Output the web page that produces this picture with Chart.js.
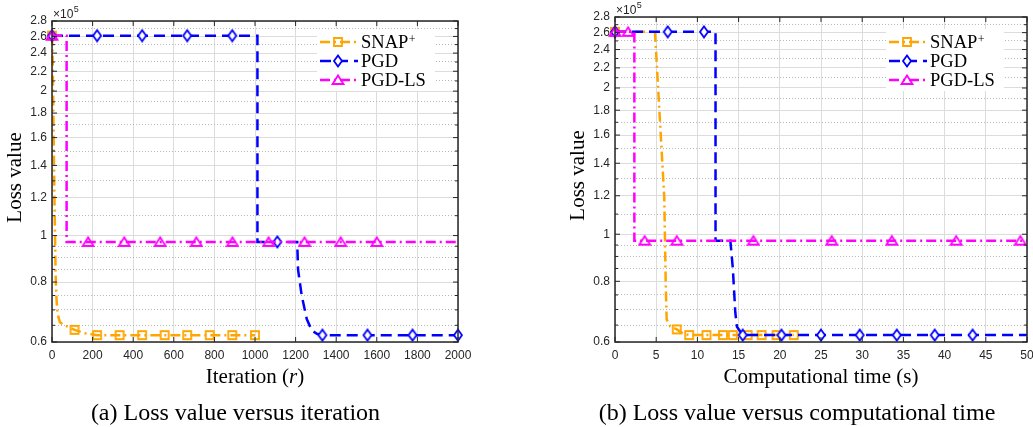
<!DOCTYPE html>
<html>
<head>
<meta charset="utf-8">
<script src="https://cdn.jsdelivr.net/npm/chart.js@4.4.1/dist/chart.umd.min.js"></script>
<style>
  html, body { margin: 0; padding: 0; background: #fff; overflow: hidden; }
  body { width: 1033px; height: 427px; position: relative; }
  canvas { position: absolute; top: 0; }
  #iterChart { left: 0; }
  #timeChart { left: 560px; }
  .caption { position: absolute; top: 398px; font: 24px "Liberation Serif", "Times New Roman", serif; color: #000; text-align: center; line-height: 28px; white-space: nowrap; }
</style>
</head>
<body>
<canvas id="iterChart" width="480" height="400"></canvas>
<canvas id="timeChart" width="480" height="400"></canvas>
<div class="caption" style="left:0;width:471px">(a) Loss value versus iteration</div>
<div class="caption" style="left:560px;width:474px">(b) Loss value versus computational time</div>
<script>
// Colours
const snapColor = '#FFA500'; // orange
const pgdColor = '#0000FF';  // blue
const lsColor = '#FF00FF';   // magenta
const gridMajor = '#dcdcdc';
const gridMinor = '#b8b8b8';
const axisColor = '#262626';
const tickFont = { family: '"Liberation Sans", Arial, sans-serif', size: 12 };
const serif = '"Liberation Serif", "Times New Roman", serif';

// Y axis (log scale, values in units of 1e5), same for both panels
const yMajorTicks = [0.6, 0.8, 1, 1.2, 1.4, 1.6, 1.8, 2, 2.2, 2.4, 2.6, 2.8];
const yTickLabels = ['0.6', '0.8', '1', '1.2', '1.4', '1.6', '1.8', '2', '2.2', '2.4', '2.6', '2.8'];
const yMinorTicks = [0.65, 0.7, 0.75, 0.85, 0.9, 0.95, 1.1, 1.3, 1.5, 1.7, 1.9, 2.1, 2.3, 2.5, 2.7];

// (a) Loss value versus iteration
const iterSnapX = [0, 3, 6, 9, 12, 15, 18, 22, 26, 32, 39, 55, 80, 111, 160, 222, 333, 444, 555, 666, 777, 888, 1000];
const iterSnapY = [2.61, 2.4, 1.9, 1.5, 1.2, 1.0, 0.82, 0.74, 0.7, 0.675, 0.66, 0.652, 0.645, 0.636, 0.626, 0.62, 0.62, 0.62, 0.62, 0.62, 0.62, 0.62, 0.62];
const iterSnapMarks = [0, 111, 222, 333, 444, 555, 666, 777, 888, 1000];

const iterPgdX = [0, 222, 444, 666, 888, 1012, 1012, 1110, 1208, 1212, 1230, 1255, 1280, 1305, 1332, 1554, 1776, 2000];
const iterPgdY = [2.61, 2.61, 2.61, 2.61, 2.61, 2.61, 0.97, 0.97, 0.97, 0.85, 0.75, 0.67, 0.634, 0.624, 0.62, 0.62, 0.62, 0.62];
const iterPgdMarks = [0, 222, 444, 666, 888, 1110, 1332, 1554, 1776, 2000];

const iterLsX = [0, 72, 72, 178, 356, 533, 711, 889, 1067, 1244, 1422, 1600, 2000];
const iterLsY = [2.61, 2.61, 0.97, 0.97, 0.97, 0.97, 0.97, 0.97, 0.97, 0.97, 0.97, 0.97, 0.97];
const iterLsMarks = [0, 178, 356, 533, 711, 889, 1067, 1244, 1422, 1600];

// (b) Loss value versus computational time (s)
const timeSnapX = [0, 4.85, 5.98, 6.15, 6.27, 6.7, 7.5, 8.2, 9.0, 11.1, 13.1, 14.3, 16.1, 17.8, 19.6, 21.7];
const timeSnapY = [2.61, 2.61, 1.19, 0.8, 0.668, 0.646, 0.637, 0.625, 0.62, 0.62, 0.62, 0.62, 0.62, 0.62, 0.62, 0.62];
const timeSnapMarks = [0, 7.5, 9.0, 11.1, 13.1, 14.3, 16.1, 17.8, 19.6, 21.7];

const timePgdX = [0, 6.4, 10.8, 12.2, 12.2, 14.0, 14.3, 14.6, 14.8, 15.5, 20.2, 25.0, 29.7, 34.2, 38.8, 43.4, 50];
const timePgdY = [2.61, 2.61, 2.61, 2.61, 0.97, 0.97, 0.85, 0.69, 0.645, 0.62, 0.62, 0.62, 0.62, 0.62, 0.62, 0.62, 0.62];
const timePgdMarks = [0, 6.4, 10.8, 15.5, 20.2, 25.0, 29.7, 34.2, 38.8, 43.4];

const timeLsX = [0, 1.6, 2.35, 2.35, 3.6, 7.5, 16.8, 26.3, 33.6, 41.4, 49.2, 50];
const timeLsY = [2.61, 2.61, 2.61, 0.97, 0.97, 0.97, 0.97, 0.97, 0.97, 0.97, 0.97, 0.97];
const timeLsMarks = [0, 1.6, 3.6, 7.5, 16.8, 26.3, 33.6, 41.4, 49.2];

// marker glyphs (MATLAB-like open square / diamond / triangle)
function markerImage(shape, color, fill) {
    const c = document.createElement('canvas');
    c.width = 14; c.height = 14;
    const g = c.getContext('2d');
    g.lineWidth = 1.8; g.strokeStyle = color; g.fillStyle = fill || 'transparent';
    g.beginPath();
    if (shape === 'square') g.rect(3, 3, 8, 8);
    else if (shape === 'diamond') { g.moveTo(7, 1.5); g.lineTo(11, 7); g.lineTo(7, 12.5); g.lineTo(3, 7); g.closePath(); }
    else { g.moveTo(7, 2.5); g.lineTo(12.5, 11); g.lineTo(1.5, 11); g.closePath(); }
    if (fill) g.fill();
    g.stroke();
    return c;
}
const squareImg = markerImage('square', snapColor);
const diamondImg = markerImage('diamond', pgdColor, '#ffffff');
const triangleImg = markerImage('triangle', lsColor);

const snapDash = [10, 4, 2, 4];
const pgdDash = [11, 6];
const lsDash = [10, 4, 2, 4];

function series(label, xs, ys, marks, color, dash, img, order) {
    return {
        label: label,
        order: order,
        data: xs.map((x, i) => ({ x: x, y: ys[i] })),
        borderColor: color,
        borderWidth: 2.5,
        borderDash: dash,
        pointStyle: img,
        pointRadius: ctx => (ctx.raw && marks.includes(ctx.raw.x)) ? 5 : 0,
        pointHoverRadius: 0,
        tension: 0,
        fill: false,
        clip: false
    };
}

const isMajor = v => yMajorTicks.includes(v);

// frame, inward ticks, exponent, axis titles, legend
const decor = {
    id: 'decor',
    afterDraw(chart, args, opts) {
        const { ctx, chartArea: a, scales } = chart;
        ctx.save();
        ctx.strokeStyle = axisColor;
        ctx.lineWidth = 1;
        ctx.beginPath();
        scales.y.ticks.forEach(t => {
            const py = scales.y.getPixelForValue(t.value);
            const len = isMajor(t.value) ? 5 : 3;
            ctx.moveTo(a.left, py); ctx.lineTo(a.left + len, py);
            ctx.moveTo(a.right, py); ctx.lineTo(a.right - len, py);
        });
        scales.x.ticks.forEach(t => {
            const px = scales.x.getPixelForValue(t.value);
            ctx.moveTo(px, a.bottom); ctx.lineTo(px, a.bottom - 5);
            ctx.moveTo(px, a.top); ctx.lineTo(px, a.top + 5);
        });
        ctx.stroke();
        ctx.lineWidth = 1.5;
        ctx.strokeRect(a.left, a.top, a.right - a.left, a.bottom - a.top);

        // x10^5
        ctx.fillStyle = axisColor;
        ctx.textAlign = 'left';
        ctx.textBaseline = 'alphabetic';
        ctx.font = '12px "Liberation Sans", Arial, sans-serif';
        ctx.fillText('\u00d710', a.left + 1, a.top - 3);
        const w10 = ctx.measureText('\u00d710').width;
        ctx.font = '9px "Liberation Sans", Arial, sans-serif';
        ctx.fillText('5', a.left + 1 + w10 + 0.5, a.top - 9);

        // y title
        ctx.fillStyle = '#000';
        ctx.font = '21px ' + serif;
        ctx.save();
        ctx.translate(a.left - 37, (a.top + a.bottom) / 2 - 4);
        ctx.rotate(-Math.PI / 2);
        ctx.textAlign = 'center';
        ctx.textBaseline = 'middle';
        ctx.fillText('Loss value', 0, 0);
        ctx.restore();

        // x title (segments, some italic)
        const segs = opts.xTitle;
        let total = 0;
        segs.forEach(s => {
            ctx.font = (s.italic ? 'italic ' : '') + '21px ' + serif;
            total += ctx.measureText(s.text).width;
        });
        let tx = (a.left + a.right) / 2 - total / 2;
        ctx.textAlign = 'left';
        ctx.textBaseline = 'alphabetic';
        segs.forEach(s => {
            ctx.font = (s.italic ? 'italic ' : '') + '21px ' + serif;
            ctx.fillText(s.text, tx, 383);
            tx += ctx.measureText(s.text).width;
        });

        // legend
        const bx = a.right - 141;
        ctx.fillStyle = '#fff';
        ctx.fillRect(bx, 29, 118, 62);
        const rows = [42, 61, 80];
        const imgs = [squareImg, diamondImg, triangleImg];
        chart.data.datasets.forEach((ds, i) => {
            const y = rows[i];
            ctx.strokeStyle = ds.borderColor;
            ctx.lineWidth = 2.5;
            ctx.setLineDash(ds.borderDash);
            ctx.beginPath();
            ctx.moveTo(a.right - 138, y);
            ctx.lineTo(a.right - 100, y);
            ctx.stroke();
            ctx.setLineDash([]);
            ctx.drawImage(imgs[i], a.right - 120 - 7, y - 7);
            ctx.fillStyle = '#000';
            ctx.font = '18.5px ' + serif;
            ctx.fillText(ds.label, a.right - 97, y + 5.5);
            if (i === 0) {
                const lw = ctx.measureText(ds.label).width;
                ctx.font = '12px ' + serif;
                ctx.fillText('+', a.right - 97 + lw + 0.5, y + 0.5);
            }
        });
        ctx.restore();
    }
};

function makeOptions(xMax, xStep, padTop, padRight, yWidth, xTitle) {
    return {
        responsive: false,
        animation: false,
        events: [],
        layout: { padding: { top: padTop, right: padRight, left: 0, bottom: 0 } },
        scales: {
            x: {
                type: 'linear', min: 0, max: xMax,
                ticks: {
                    stepSize: xStep, padding: 6, color: axisColor, font: tickFont,
                    maxRotation: 0, minRotation: 0, autoSkip: false,
                    callback: v => String(v)
                },
                grid: { color: gridMajor, lineWidth: 1, drawTicks: false },
                border: { display: false },
                afterFit: s => { s.height = 58; }
            },
            y: {
                type: 'logarithmic', min: 0.6, max: 2.8, bounds: 'data',
                afterBuildTicks: s => {
                    s.ticks = yMajorTicks.concat(yMinorTicks).sort((p, q) => p - q).map(v => ({ value: v }));
                },
                ticks: {
                    autoSkip: false, padding: 5, color: axisColor, font: tickFont,
                    callback: v => { const i = yMajorTicks.indexOf(v); return i >= 0 ? yTickLabels[i] : ''; }
                },
                grid: {
                    drawTicks: false, lineWidth: 1,
                    color: ctx => (ctx.tick && !isMajor(ctx.tick.value)) ? gridMinor : gridMajor
                },
                border: {
                    display: false,
                    dash: ctx => (ctx.tick && !isMajor(ctx.tick.value)) ? [1, 2] : []
                },
                afterFit: s => { s.width = yWidth; }
            }
        },
        plugins: {
            legend: { display: false },
            tooltip: { enabled: false },
            decor: { xTitle: xTitle }
        }
    };
}

// (a)
new Chart(document.getElementById('iterChart').getContext('2d'), {
    type: 'line',
    data: {
        datasets: [
            series('SNAP', iterSnapX, iterSnapY, iterSnapMarks, snapColor, snapDash, squareImg, 2),
            series('PGD', iterPgdX, iterPgdY, iterPgdMarks, pgdColor, pgdDash, diamondImg, 1),
            series('PGD-LS', iterLsX, iterLsY, iterLsMarks, lsColor, lsDash, triangleImg, 0)
        ]
    },
    options: makeOptions(2000, 200, 21, 22, 52, [{ text: 'Iteration (' }, { text: 'r', italic: true }, { text: ')' }]),
    plugins: [decor]
});

// (b)
new Chart(document.getElementById('timeChart').getContext('2d'), {
    type: 'line',
    data: {
        datasets: [
            series('SNAP', timeSnapX, timeSnapY, timeSnapMarks, snapColor, snapDash, squareImg, 2),
            series('PGD', timePgdX, timePgdY, timePgdMarks, pgdColor, pgdDash, diamondImg, 1),
            series('PGD-LS', timeLsX, timeLsY, timeLsMarks, lsColor, lsDash, triangleImg, 0)
        ]
    },
    options: makeOptions(50, 5, 17, 13, 55, [{ text: 'Computational time (s)' }]),
    plugins: [decor]
});
</script>
</body>
</html>
